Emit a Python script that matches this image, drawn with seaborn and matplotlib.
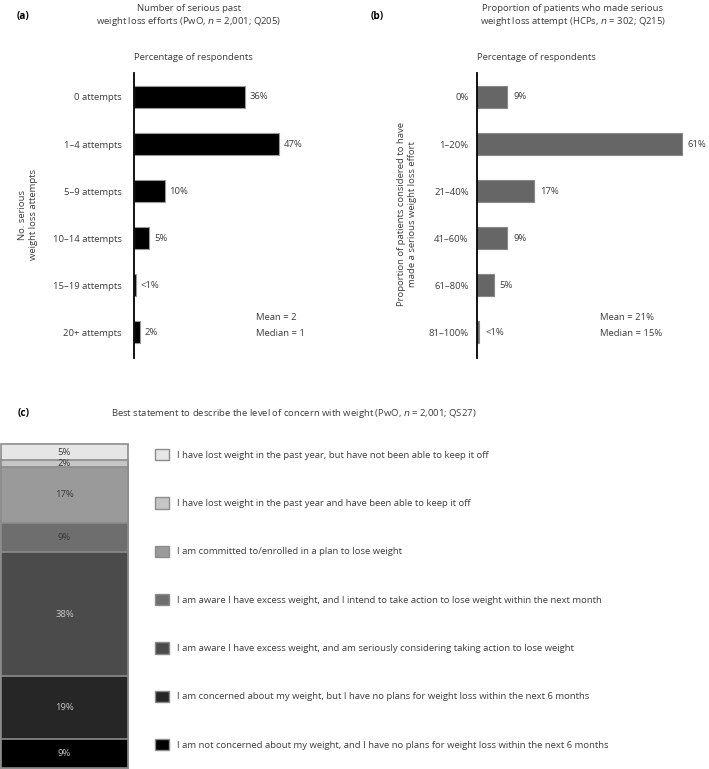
import numpy as np
import pandas as pd
import matplotlib
matplotlib.use("Agg")
import matplotlib.pyplot as plt
import seaborn as sns
from matplotlib.patches import Patch

# ========== DATA ==========
attempt_cats = ["0 attempts", "1\u20134 attempts", "5\u20139 attempts",
                "10\u201314 attempts", "15\u201319 attempts", "20+ attempts"]
attempt_vals = [36, 47, 10, 5, 0.6, 2]
attempt_lbls = ["36%", "47%", "10%", "5%", "<1%", "2%"]

hcp_cats = ["0%", "1\u201320%", "21\u201340%", "41\u201360%", "61\u201380%", "81\u2013100%"]
hcp_vals = [9, 61, 17, 9, 5, 0.6]
hcp_lbls = ["9%", "61%", "17%", "9%", "5%", "<1%"]

# stacked bar, listed bottom -> top
concern_lbls = [
    "I am not concerned about my weight, and I have no plans for weight loss within the next 6 months",
    "I am concerned about my weight, but I have no plans for weight loss within the next 6 months",
    "I am aware I have excess weight, and am seriously considering taking action to lose weight",
    "I am aware I have excess weight, and I intend to take action to lose weight within the next month",
    "I am committed to/enrolled in a plan to lose weight",
    "I have lost weight in the past year and have been able to keep it off",
    "I have lost weight in the past year, but have not been able to keep it off",
]
concern_vals = [9, 19, 38, 9, 17, 2, 5]
concern_cols = ["#000000", "#262626", "#4b4b4b", "#6e6e6e", "#9a9a9a", "#c6c6c6", "#e6e6e6"]
concern_txt = ["#c8c8c8", "#c8c8c8", "#c8c8c8", "#3a3a3a", "#3a3a3a", "#3a3a3a", "#3a3a3a"]

# ========== STYLE ==========
sns.set_theme(style="white")
plt.rcParams["font.family"] = ["Open Sans", "DejaVu Sans"]
FS = 6.8
TXT = "#3c3c3c"
W, H = 709, 769


def fig_ax(fig, x0, y0, x1, y1):
    return fig.add_axes([x0 / W, 1 - y1 / H, (x1 - x0) / W, (y1 - y0) / H])


def hbar_panel(ax, cats, vals, lbls, color, edge, xmax, tickpad):
    df = pd.DataFrame({"cat": cats, "val": vals})
    sns.barplot(data=df, y="cat", x="val", orient="h", color=color, width=0.47,
                edgecolor=edge, linewidth=0.8, saturation=1, ax=ax)
    for i, (v, t) in enumerate(zip(vals, lbls)):
        ax.text(v + xmax * 0.027, i, t, va="center", ha="left", fontsize=FS, color=TXT)
    ax.set_xlim(0, xmax)
    ax.set_ylim(5.55, -0.51)
    ax.set_xlabel("")
    ax.set_ylabel("")
    ax.set_xticks([])
    sns.despine(ax=ax, top=True, right=True, bottom=True, left=False)
    ax.spines["left"].set_color("black")
    ax.spines["left"].set_linewidth(1.3)
    ax.tick_params(axis="y", length=0, pad=tickpad, labelsize=FS, labelcolor=TXT)


def main():
    fig = plt.figure(figsize=(W / 100, H / 100), dpi=100)

    # ----- (a) -----
    ax_a = fig_ax(fig, 134, 73, 309, 358)
    hbar_panel(ax_a, attempt_cats, attempt_vals, attempt_lbls, "black", "#999999", 175 / 3.08, 9)
    fig.text(17 / W, 1 - 17 / H, "(a)", fontsize=FS + 0.4, fontweight="bold", color="black", va="center")
    fig.text(189 / W, 1 - 16 / H, "Number of serious past\nweight loss efforts (PwO, $n$ = 2,001; Q205)",
             ha="center", va="center", fontsize=FS, color=TXT, linespacing=1.3)
    fig.text(134 / W, 1 - 57 / H, "Percentage of respondents", ha="left", va="center", fontsize=FS, color=TXT)
    fig.text(28 / W, 1 - 215 / H, "No. serious\nweight loss attempts", rotation=90, ha="center", va="center",
             fontsize=FS, color=TXT, linespacing=1.3)
    fig.text(256 / W, 1 - 317 / H, "Mean = 2", fontsize=FS, color=TXT, va="center")
    fig.text(256 / W, 1 - 333 / H, "Median = 1", fontsize=FS, color=TXT, va="center")

    # ----- (b) -----
    ax_b = fig_ax(fig, 477, 73, 700, 358)
    hbar_panel(ax_b, hcp_cats, hcp_vals, hcp_lbls, "#666666", "#888888", 223 / 3.36, 6)
    fig.text(371 / W, 1 - 17 / H, "(b)", fontsize=FS + 0.4, fontweight="bold", color="black", va="center")
    fig.text(573 / W, 1 - 16 / H, "Proportion of patients who made serious\nweight loss attempt (HCPs, $n$ = 302; Q215)",
             ha="center", va="center", fontsize=FS, color=TXT, linespacing=1.3)
    fig.text(477 / W, 1 - 57 / H, "Percentage of respondents", ha="left", va="center", fontsize=FS, color=TXT)
    fig.text(407 / W, 1 - 214 / H, "Proportion of patients considered to have\nmade a serious weight loss effort",
             rotation=90, ha="center", va="center", fontsize=FS, color=TXT, linespacing=1.3)
    fig.text(600 / W, 1 - 317 / H, "Mean = 21%", fontsize=FS, color=TXT, va="center")
    fig.text(600 / W, 1 - 333 / H, "Median = 15%", fontsize=FS, color=TXT, va="center")

    # ----- (c) -----
    fig.text(18 / W, 1 - 414 / H, "(c)", fontsize=FS + 0.4, fontweight="bold", color="black", va="center")
    fig.text(111 / W, 1 - 414 / H,
             "Best statement to describe the level of concern with weight (PwO, $n$ = 2,001; QS27)",
             ha="left", va="center", fontsize=FS, color=TXT)

    ax_c = fig_ax(fig, 1, 444, 128, 768)
    cum = np.cumsum(concern_vals)
    stack = pd.DataFrame({"grp": ["all"] * len(cum), "top": cum, "seg": range(len(cum))})
    # overlay cumulative bars, tallest first
    for i in range(len(cum) - 1, -1, -1):
        sns.barplot(data=stack.iloc[[i]], x="grp", y="top", color=concern_cols[i], width=1.0,
                    edgecolor="#8c8c8c", linewidth=1.2, saturation=1, ax=ax_c)
    bottoms = cum - np.array(concern_vals)
    for i, v in enumerate(concern_vals):
        ax_c.text(0, bottoms[i] + v / 2, f"{v}%", ha="center", va="center", fontsize=FS, color=concern_txt[i])
    ax_c.set_xlim(-0.5, 0.5)
    ax_c.set_ylim(0, cum[-1])
    ax_c.set_axis_off()
    for p in ax_c.patches:
        p.set_clip_on(False)

    handles = [Patch(facecolor=c, edgecolor="#8c8c8c", linewidth=1.0) for c in concern_cols[::-1]]
    fig.legend(handles, concern_lbls[::-1], loc="upper left", bbox_to_anchor=(155 / W, 1 - 449 / H),
               frameon=False, fontsize=FS, labelcolor=TXT, handlelength=1.48, handleheight=1.48,
               handletextpad=0.85, labelspacing=3.91, borderpad=0, borderaxespad=0)

    fig.savefig("out.png", dpi=100)


if __name__ == "__main__":
    main()
